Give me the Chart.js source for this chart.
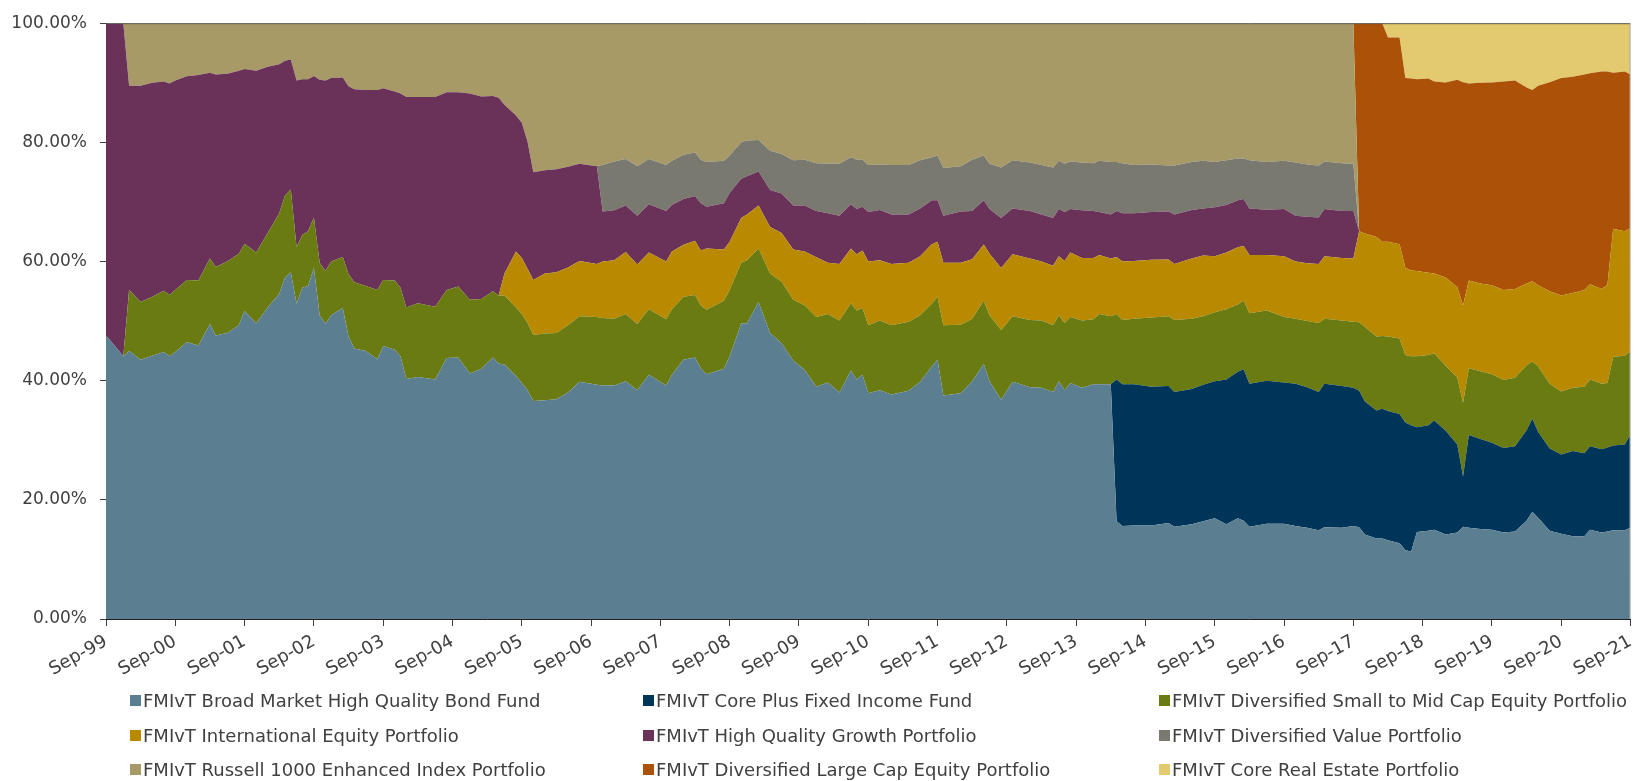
<!DOCTYPE html>
<html><head><meta charset="utf-8">
<script src="https://cdn.jsdelivr.net/npm/chart.js@4.4.1/dist/chart.umd.min.js"></script>
<style>
html,body{margin:0;padding:0;background:#fff;width:1646px;height:781px;overflow:hidden;}
#wrap{position:absolute;left:0;top:0;width:1646px;height:690px;}
#legend{position:absolute;left:0;top:0;width:1646px;height:781px;font-family:"DejaVu Sans",sans-serif;font-size:18px;color:#404040;}
.item{position:absolute;display:flex;align-items:center;white-space:nowrap;height:22px;}
.sw{width:11px;height:11px;margin-right:2px;flex:none;}
</style></head>
<body>
<div id="wrap"><canvas id="c"></canvas></div>
<div id="legend"></div>
<script>
// ---- data (percent of total) ----
const dates = [
 "Sep-99","Dec-99","Jan-00","Mar-00","May-00","Jul-00","Aug-00","Sep-00","Nov-00",
 "Jan-01","Mar-01","Apr-01","Jun-01","Aug-01","Sep-01","Nov-01",
 "Jan-02","Mar-02","Apr-02","May-02","Jun-02","Jul-02","Aug-02","Sep-02","Oct-02","Nov-02","Dec-02",
 "Feb-03","Mar-03","Apr-03","Jun-03","Aug-03","Sep-03","Nov-03","Dec-03",
 "Jan-04","Mar-04","Jun-04","Aug-04","Oct-04","Dec-04",
 "Feb-05","Apr-05","May-05","Jun-05","Aug-05","Sep-05","Oct-05","Nov-05",
 "Jan-06","Mar-06","May-06","Jul-06","Oct-06","Nov-06",
 "Jan-07","Mar-07","May-07","Jul-07","Oct-07","Nov-07",
 "Jan-08","Mar-08","Apr-08","May-08","Aug-08","Sep-08","Nov-08","Dec-08",
 "Feb-09","Apr-09","Jun-09","Aug-09","Oct-09","Dec-09",
 "Feb-10","Apr-10","Jun-10","Jul-10","Aug-10","Sep-10","Nov-10",
 "Jan-11","Apr-11","Jun-11","Aug-11","Sep-11","Oct-11",
 "Jan-12","Mar-12","May-12","Jun-12","Aug-12","Oct-12",
 "Jan-13","Mar-13","May-13","Jun-13","Jul-13","Aug-13","Oct-13","Dec-13",
 "Jan-14","Mar-14","Apr-14","May-14","Jul-14","Oct-14",
 "Jan-15","Feb-15","May-15","Jul-15","Sep-15","Nov-15",
 "Jan-16","Feb-16","Mar-16","Jun-16","Sep-16","Nov-16",
 "Jan-17","Mar-17","Apr-17","Jul-17","Sep-17","Oct-17","Nov-17",
 "Jan-18","Feb-18","Mar-18","May-18","Jun-18","Jul-18","Aug-18","Oct-18","Nov-18",
 "Jan-19","Mar-19","Apr-19","May-19","Jul-19","Sep-19","Nov-19",
 "Jan-20","Mar-20","Apr-20","May-20","Jul-20","Sep-20","Nov-20",
 "Jan-21","Feb-21","Apr-21","May-21","Jun-21","Aug-21","Sep-21"
];
const broadMarket = [
 47.6,44.1,45.0,43.5,44.2,44.8,44.1,44.8,46.5,
 45.9,49.5,47.6,48.0,49.3,51.7,49.6,
 52.3,54.6,57.3,58.2,52.9,55.6,55.9,58.9,51.0,49.5,51.0,
 52.2,47.4,45.4,45.0,43.6,45.8,45.2,44.1,
 40.3,40.6,40.2,43.8,43.9,41.2,
 42.0,43.9,42.9,42.7,40.8,39.6,38.4,36.6,
 36.7,36.9,38.0,39.8,39.3,39.2,
 39.2,39.9,38.4,41.0,39.2,41.0,
 43.5,43.9,42.1,41.1,42.0,44.1,49.6,49.6,
 53.2,48.0,46.3,43.4,41.8,39.0,
 39.7,38.0,41.7,40.2,41.0,37.9,38.4,
 37.7,38.3,39.8,42.4,43.5,37.5,
 37.9,39.9,42.8,39.9,36.8,39.8,
 38.9,38.8,38.1,39.9,38.4,39.6,38.8,39.4,
 39.4,39.4,16.4,15.6,15.7,15.7,
 16.1,15.5,15.9,16.4,16.9,15.9,
 16.9,16.5,15.5,16.0,16.0,15.6,
 15.3,14.9,15.4,15.3,15.6,15.4,14.2,
 13.5,13.5,13.2,12.7,11.6,11.3,14.6,14.8,15.0,
 14.2,14.5,15.5,15.3,15.1,15.0,14.5,
 14.7,16.5,18.0,17.0,14.8,14.3,13.9,
 13.9,15.0,14.5,14.7,14.9,14.9,15.3
];
const corePlus = [
 0,0,0,0,0,0,0,0,0,
 0,0,0,0,0,0,0,
 0,0,0,0,0,0,0,0,0,0,0,
 0,0,0,0,0,0,0,0,
 0,0,0,0,0,0,
 0,0,0,0,0,0,0,0,
 0,0,0,0,0,0,
 0,0,0,0,0,0,
 0,0,0,0,0,0,0,0,
 0,0,0,0,0,0,
 0,0,0,0,0,0,0,
 0,0,0,0,0,0,
 0,0,0,0,0,0,
 0,0,0,0,0,0,0,0,
 0,0,23.8,23.8,23.7,23.3,
 23.0,22.6,22.7,22.9,23.0,24.3,
 24.6,25.4,24.0,24.0,23.7,23.9,
 23.6,23.2,24.1,23.8,23.2,22.9,22.3,
 21.5,21.8,21.7,21.7,21.4,21.2,17.6,17.7,18.3,
 17.4,14.8,8.4,15.6,15.1,14.6,14.2,
 14.3,15.2,15.6,14.4,13.8,13.3,14.3,
 13.9,14.0,14.0,14.1,14.2,14.4,15.7
];
const smallMidCap = [
 0,0,10.2,9.7,9.9,10.3,10.3,10.4,10.4,
 10.9,11.0,11.5,12.0,12.0,11.3,11.9,
 12.5,13.5,13.8,13.9,9.5,8.9,9.2,8.5,8.8,8.9,9.0,
 8.55,10.5,11.1,10.9,11.6,11.1,11.6,11.5,
 12.0,12.4,12.2,11.4,11.9,12.4,
 11.7,11.1,11.4,11.6,11.5,11.6,11.3,11.05,
 11.2,11.1,11.3,11.0,11.4,11.3,
 11.2,11.3,11.1,11.0,11.1,11.0,
 10.6,10.5,10.5,10.8,11.4,11.1,10.2,10.6,
 9.0,10.0,10.3,10.2,10.8,11.7,
 11.5,12.1,11.3,11.6,11.2,11.4,11.7,
 11.6,11.6,11.2,10.5,10.6,11.8,
 11.5,10.5,10.6,11.1,11.7,11.0,
 11.3,11.3,11.2,11.1,11.3,11.1,11.3,10.9,
 11.8,11.4,11.0,10.8,11.0,11.6,
 11.7,12.1,11.8,11.5,11.6,11.8,
 11.3,11.5,11.8,11.8,11.0,10.9,
 11.1,11.6,10.9,11.0,11.1,11.5,12.5,
 12.4,12.2,12.5,12.7,11.3,11.6,11.9,11.8,11.3,
 10.9,11.2,12.4,11.2,11.4,11.5,11.4,
 11.5,10.9,9.6,11.0,10.9,10.6,10.6,
 11.2,11.2,11.0,10.8,14.9,14.9,14.0
];
const international = [
 0,0,0,0,0,0,0,0,0,
 0,0,0,0,0,0,0,
 0,0,0,0,0,0,0,0,0,0,0,
 0,0,0,0,0,0,0,0,
 0,0,0,0,0,0,
 0,0,0,3.7,9.4,9.4,9.1,9.25,
 10.1,10.2,9.7,9.3,8.9,9.5,
 9.8,10.4,10.0,9.5,9.7,9.7,
 8.7,9.1,9.25,10.3,8.6,8.1,7.5,7.7,
 7.2,7.8,8.2,8.4,9.1,10.0,
 8.6,9.5,9.2,9.4,9.65,10.7,10.1,
 10.3,9.9,9.9,10.0,9.2,10.5,
 10.4,10.0,9.45,10.3,10.4,10.4,
 10.3,9.9,10.0,9.9,10.4,10.8,10.5,10.3,
 9.9,9.7,9.55,9.8,9.7,9.7,
 9.55,9.4,10.1,10.2,9.4,9.5,
 9.6,9.2,9.8,9.3,10.2,9.6,
 9.7,9.9,10.5,10.5,10.6,15.3,15.7,
 16.7,15.8,15.9,15.8,14.7,14.4,14.3,13.8,13.4,
 14.8,15.2,16.3,14.7,14.7,14.9,15.1,
 14.9,13.7,13.5,13.6,15.5,16.1,15.9,
 16.2,16.0,15.9,16.5,21.5,20.9,20.6
];
const highQualityGrowth = [
 52.4,55.9,34.3,36.3,35.9,35.1,35.5,35.2,34.2,
 34.5,31.2,32.3,31.5,30.7,29.3,30.5,
 27.9,25.0,22.6,21.8,28.0,26.1,25.5,23.75,30.7,32.0,30.8,
 30.15,31.5,32.4,32.9,33.6,32.2,31.75,32.6,
 35.3,34.6,35.2,33.2,32.6,34.6,
 34.0,32.8,33.2,28.3,22.8,22.7,21.3,18.1,
 17.3,17.3,16.9,16.3,16.4,8.4,
 8.4,7.8,8.2,8.1,8.5,7.8,
 7.7,7.5,7.95,7.0,7.8,8.2,6.6,6.4,
 5.7,6.2,6.6,7.4,7.7,7.8,
 8.3,8.1,7.4,7.6,7.35,8.3,8.45,
 8.3,8.1,8.0,7.4,7.0,7.9,
 8.6,8.1,7.45,7.5,8.4,7.7,
 8.0,7.9,8.0,7.9,8.2,7.3,8.0,7.9,
 7.2,7.4,7.75,8.1,8.0,8.0,
 8.05,8.3,8.15,7.9,8.2,8.0,
 7.9,7.9,7.8,7.6,7.9,7.7,
 7.8,7.8,7.9,7.9,8.0,0,0,
 0,0,0,0,0,0,0,0,0,
 0,0,0,0,0,0,0,
 0,0,0,0,0,0,0,
 0,0,0,0,0,0,0
];
const diversifiedValue = [
 0,0,0,0,0,0,0,0,0,
 0,0,0,0,0,0,0,
 0,0,0,0,0,0,0,0,0,0,0,
 0,0,0,0,0,0,0,0,
 0,0,0,0,0,0,
 0,0,0,0,0,0,0,0,
 0,0,0,0,0,7.8,
 8.2,7.8,8.3,7.6,7.7,7.4,
 7.4,7.3,7.3,7.5,7.1,6.3,6.1,6.0,
 5.3,6.6,6.65,7.6,7.7,8.0,
 8.35,8.7,7.9,8.3,7.9,7.9,7.65,
 8.3,8.3,8.1,7.2,7.5,8.0,
 7.6,8.6,7.5,7.6,8.5,8.1,
 8.1,8.3,8.5,8.1,8.1,8.0,8.0,8.0,
 8.6,8.8,8.2,8.4,8.1,8.0,
 7.7,8.2,8.05,8.0,7.6,7.5,
 7.0,6.8,8.1,8.0,8.1,8.9,
 8.8,8.7,8.0,8.0,7.9,0,0,
 0,0,0,0,0,0,0,0,0,
 0,0,0,0,0,0,0,
 0,0,0,0,0,0,0,
 0,0,0,0,0,0,0
];
const russell1000 = [
 0,0,10.5,10.5,10.0,9.8,10.1,9.6,8.9,
 8.7,8.3,8.6,8.5,8.0,7.7,8.0,
 7.3,6.9,6.3,6.1,9.6,9.4,9.4,8.85,9.5,9.6,9.2,
 9.1,10.6,11.1,11.2,11.2,10.9,11.45,11.8,
 12.4,12.4,12.4,11.6,11.6,11.8,
 12.3,12.2,12.5,13.7,15.5,16.7,19.9,25.0,
 24.7,24.5,24.1,23.6,24.0,23.8,
 23.2,22.8,24.0,22.8,23.8,23.1,
 22.1,21.7,22.9,23.3,23.1,22.2,20.0,19.7,
 19.6,21.4,21.95,23.0,22.9,23.5,
 23.55,23.6,22.5,22.9,22.9,23.8,23.7,
 23.8,23.8,23.0,22.5,22.2,24.3,
 24.0,22.9,22.2,23.6,24.2,23.0,
 23.4,23.8,24.2,23.1,23.6,23.2,23.4,23.5,
 23.1,23.3,23.3,23.5,23.8,23.7,
 23.9,23.9,23.3,23.1,23.3,23.0,
 22.7,22.7,23.0,23.3,23.1,23.4,
 23.7,23.9,23.2,23.5,23.6,0,0,
 0,0,0,0,0,0,0,0,0,
 0,0,0,0,0,0,0,
 0,0,0,0,0,0,0,
 0,0,0,0,0,0,0
];
const largeCapEquity = [
 0,0,0,0,0,0,0,0,0,
 0,0,0,0,0,0,0,
 0,0,0,0,0,0,0,0,0,0,0,
 0,0,0,0,0,0,0,0,
 0,0,0,0,0,0,
 0,0,0,0,0,0,0,0,
 0,0,0,0,0,0,
 0,0,0,0,0,0,
 0,0,0,0,0,0,0,0,
 0,0,0,0,0,0,
 0,0,0,0,0,0,0,
 0,0,0,0,0,0,
 0,0,0,0,0,0,
 0,0,0,0,0,0,0,0,
 0,0,0,0,0,0,
 0,0,0,0,0,0,
 0,0,0,0,0,0,
 0,0,0,0,0,34.9,35.3,
 35.9,36.7,34.3,34.7,31.8,32.2,32.2,32.6,32.2,
 32.75,34.8,37.5,33.1,33.7,34.05,35.0,
 35.0,32.9,32.1,33.5,35.1,36.5,36.3,
 36.2,35.4,36.5,35.8,26.2,26.8,25.8
];
const coreRealEstate = [
 0,0,0,0,0,0,0,0,0,
 0,0,0,0,0,0,0,
 0,0,0,0,0,0,0,0,0,0,0,
 0,0,0,0,0,0,0,0,
 0,0,0,0,0,0,
 0,0,0,0,0,0,0,0,
 0,0,0,0,0,0,
 0,0,0,0,0,0,
 0,0,0,0,0,0,0,0,
 0,0,0,0,0,0,
 0,0,0,0,0,0,0,
 0,0,0,0,0,0,
 0,0,0,0,0,0,
 0,0,0,0,0,0,0,0,
 0,0,0,0,0,0,
 0,0,0,0,0,0,
 0,0,0,0,0,0,
 0,0,0,0,0,0,0,
 0,0,2.4,2.4,9.2,9.3,9.4,9.3,9.8,
 9.95,9.5,9.9,10.1,10.0,9.95,9.8,
 9.6,10.8,11.2,10.5,9.9,9.2,9.0,
 8.6,8.4,8.1,8.1,8.3,8.1,8.6
];
const seriesNames = [
 "FMIvT Broad Market High Quality Bond Fund",
 "FMIvT Core Plus Fixed Income Fund",
 "FMIvT Diversified Small to Mid Cap Equity Portfolio",
 "FMIvT International Equity Portfolio",
 "FMIvT High Quality Growth Portfolio",
 "FMIvT Diversified Value Portfolio",
 "FMIvT Russell 1000 Enhanced Index Portfolio",
 "FMIvT Diversified Large Cap Equity Portfolio",
 "FMIvT Core Real Estate Portfolio"
];
const yTicks = [0, 20, 40, 60, 80, 100];
const xTickMonths = ["Sep-99","Sep-00","Sep-01","Sep-02","Sep-03","Sep-04","Sep-05","Sep-06","Sep-07","Sep-08","Sep-09","Sep-10","Sep-11","Sep-12","Sep-13","Sep-14","Sep-15","Sep-16","Sep-17","Sep-18","Sep-19","Sep-20","Sep-21"];

// ---- styling ----
const colors = ["#5c7e91","#00355a","#6a7b12","#b98a00","#6a3259","#79796f","#a79a66","#ac5208","#e4ca6e"];
const FONT = '"DejaVu Sans", sans-serif';
const TEXT = '#404040';

const MONTHS = ["Jan","Feb","Mar","Apr","May","Jun","Jul","Aug","Sep","Oct","Nov","Dec"];
function monthIndex(s){
  const [mn, yy] = s.split('-');
  const y = parseInt(yy,10); const year = y >= 50 ? 1900 + y : 2000 + y;
  return (year - 1999) * 12 + MONTHS.indexOf(mn) - 8;
}
const xs = dates.map(monthIndex);
const tickSet = new Map(xTickMonths.map(s => [monthIndex(s), s]));
const allSeries = [broadMarket, corePlus, smallMidCap, international, highQualityGrowth, diversifiedValue, russell1000, largeCapEquity, coreRealEstate];

const datasets = allSeries.map((arr, i) => ({
  label: seriesNames[i],
  data: arr.map((v, j) => ({x: xs[j], y: v})),
  backgroundColor: colors[i],
  borderColor: colors[i],
  borderWidth: 0,
  pointRadius: 0,
  tension: 0,
  fill: i === 0 ? 'origin' : '-1'
}));

const frame = {
  id: 'frame',
  afterDraw(chart){
    const {ctx, chartArea:a} = chart;
    ctx.save();
    ctx.lineWidth = 1;
    ctx.strokeStyle = '#57564c';
    ctx.beginPath(); ctx.moveTo(a.left, a.top + 0.5); ctx.lineTo(a.right, a.top + 0.5); ctx.stroke();
    ctx.strokeStyle = '#a8a8a8';
    ctx.beginPath(); ctx.moveTo(a.right - 0.5, a.top); ctx.lineTo(a.right - 0.5, a.bottom); ctx.stroke();
    ctx.restore();
  }
};

new Chart(document.getElementById('c'), {
  type: 'line',
  data: { datasets },
  plugins: [frame],
  options: {
    responsive: true, maintainAspectRatio: false, animation: false,
    layout: { padding: { left: 0, right: 7, top: 17, bottom: 0 } },
    plugins: { legend: { display: false }, tooltip: { enabled: false } },
    scales: {
      x: {
        type: 'linear', min: 0, max: 264,
        afterFit(s){ s.height = 71; },
        afterBuildTicks(s){ s.ticks = [...tickSet.keys()].map(v => ({value: v})); },
        ticks: { autoSkip: false, minRotation: 29, maxRotation: 29, padding: 5,
          color: TEXT, font: { family: FONT, size: 18 },
          callback: v => tickSet.get(v) || '' },
        grid: { display: true, drawOnChartArea: false, drawTicks: true, tickLength: 7, color: '#404040' },
        border: { display: true, color: '#1e1e1e', width: 1 }
      },
      y: {
        stacked: true, min: 0, max: 100,
        afterFit(s){ s.width = 106; },
        afterBuildTicks(s){ s.ticks = yTicks.map(v => ({value: v})); },
        ticks: { padding: 13, color: TEXT, font: { family: FONT, size: 17 },
          callback: v => v.toFixed(2) + '%' },
        grid: { display: true, drawOnChartArea: false, drawTicks: true, tickLength: 6, color: '#404040' },
        border: { display: true, color: '#1e1e1e', width: 1 }
      }
    }
  }
});

// ---- legend (3 x 3 grid) ----
const colX = [130, 643, 1159];
const rowY = [700, 735, 769];
const lg = document.getElementById('legend');
seriesNames.forEach((name, i) => {
  const d = document.createElement('div');
  d.className = 'item';
  d.style.left = colX[i % 3] + 'px';
  d.style.top = (rowY[Math.floor(i / 3)] - 11) + 'px';
  const sw = document.createElement('span'); sw.className = 'sw'; sw.style.background = colors[i];
  const t = document.createElement('span'); t.textContent = name;
  d.appendChild(sw); d.appendChild(t); lg.appendChild(d);
});
</script>
</body></html>
